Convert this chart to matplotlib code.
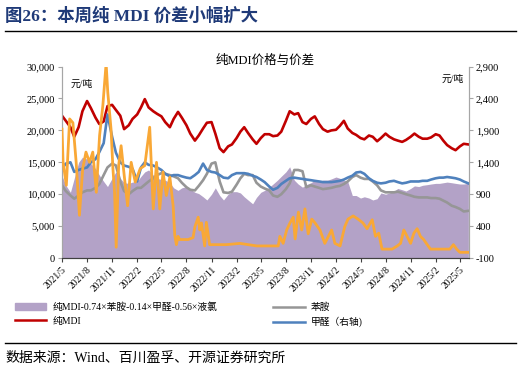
import numpy as np
import pandas as pd
import matplotlib
matplotlib.use("Agg")
import matplotlib.pyplot as plt
from matplotlib.patches import Patch
from matplotlib.lines import Line2D

plt.rcParams["font.family"] = ["Liberation Serif", "Noto Sans CJK SC"]
plt.rcParams["axes.unicode_minus"] = False

# semi-monthly points, 2021/5 -> 2025/6 (thousand yuan/t, left axis)
mdi = [22.3, 21.5, 20.5, 19.0, 20.5, 23.0, 24.6, 23.5, 22.0, 21.0,
       21.4, 23.8, 24.0, 23.2, 22.3, 20.2, 20.8, 21.8, 22.5, 23.6,
       24.9, 23.6, 23.0, 22.6, 22.2, 21.3, 20.5, 21.8, 22.9, 22.0,
       20.8, 19.5, 18.4, 19.2, 20.3, 21.2, 21.3, 19.5, 17.2, 16.6,
       17.5, 17.8, 18.8, 19.8, 20.5, 19.6, 18.6, 17.9, 18.8, 19.4,
       19.4, 19.1, 19.2, 19.8, 21.5, 23.0, 22.5, 22.7, 21.3, 21.0,
       21.8, 22.2, 21.0, 20.2, 19.8, 20.0, 20.1, 20.7, 21.5, 20.3,
       19.6, 19.3, 18.8, 18.6, 19.2, 19.0, 18.3, 18.8, 19.5, 19.0,
       18.6, 18.4, 18.2, 18.5, 19.0, 19.5, 19.0, 18.7, 18.7, 18.9,
       19.4, 19.2, 18.4, 17.7, 17.2, 16.9, 17.5, 17.9, 17.8]
aniline = [11.4, 10.5, 9.8, 9.3, 9.8, 10.3, 10.6, 10.6, 11.0, 11.6,
           13.0, 14.2, 14.8, 14.5, 12.0, 10.5, 10.0, 10.5, 11.0, 11.0,
           11.5, 12.0, 12.5, 13.0, 13.3, 13.2, 13.0, 12.8, 12.5, 11.8,
           11.1, 10.7, 10.6, 11.3, 12.2, 13.2, 14.8, 15.0, 12.0, 10.3,
           10.2, 10.4, 11.5, 12.5, 13.2, 13.0, 13.0, 11.8, 11.2, 10.9,
           10.6, 9.8, 9.6, 10.0, 10.8, 11.7, 13.8, 13.8, 13.6, 11.1,
           11.4, 11.2, 11.0, 10.8, 10.9, 11.0, 11.2, 11.3, 11.6, 12.0,
           12.7, 13.0, 12.6, 12.4, 12.4, 12.0, 11.4, 10.6, 10.3, 10.3,
           10.3, 10.4, 10.2, 10.0, 9.8, 9.6, 9.5, 9.5, 9.5, 9.4,
           9.4, 9.3, 9.0, 8.7, 8.2, 8.0, 7.7, 7.3, 7.4]
spread = [12.9, 11.4, 10.3, 12.5, 15.0, 15.8, 15.5, 14.8, 14.0, 13.0,
          12.0, 11.2, 12.5, 13.5, 12.5, 11.8, 11.7, 11.9, 12.0, 12.8,
          13.5, 13.8, 13.0, 12.5, 12.3, 12.2, 11.8, 11.0, 10.6, 11.0,
          11.2, 10.8, 10.3, 10.1, 9.6, 9.1, 10.0, 11.0, 9.8, 9.1,
          10.0, 10.4, 10.4, 10.2, 9.6, 9.1, 8.5, 9.5, 10.3, 10.6,
          11.1, 11.6, 12.2, 12.8, 13.5, 14.3, 12.2, 11.6, 11.1, 11.5,
          11.8, 12.2, 12.0, 12.2, 12.2, 12.4, 12.7, 12.5, 12.2, 12.0,
          9.8, 9.8, 9.4, 9.6, 9.4, 9.1, 9.3, 10.2, 10.0, 10.2,
          10.5, 10.9, 10.7, 10.5, 10.9, 11.3, 11.2, 11.4, 11.5, 11.6,
          11.7, 11.7, 11.8, 11.9, 11.8, 11.7, 11.6, 11.6, 11.7]
# right axis, yuan/t
formaldehyde = [1300, 1380, 1400, 1250, 1280, 1300, 1320, 1400, 1450, 1560,
                1700, 2150, 1800, 1550, 1400, 1350, 1330, 1300, 1100, 1320,
                1400, 1360, 1350, 1320, 1280, 1220, 1180, 1200, 1200, 1180,
                1160, 1150, 1200, 1250, 1380, 1280, 1250, 1240, 1200, 1160,
                1150, 1200, 1230, 1230, 1230, 1220, 1190, 1170, 1130, 1090,
                1020, 970, 1000, 1060, 1110, 1150, 1160, 1150, 1140, 1130,
                1120, 1110, 1100, 1090, 1090, 1090, 1100, 1110, 1130, 1160,
                1190, 1240, 1250, 1220, 1150, 1110, 1080, 1070, 1080, 1100,
                1110, 1090, 1070, 1080, 1100, 1100, 1100, 1110, 1110, 1130,
                1150, 1160, 1160, 1170, 1160, 1150, 1130, 1100, 1070]

chlorine_dates = [
    "2021-05-01", "2021-05-05", "2021-05-17", "2021-05-29", "2021-06-10", "2021-06-22",
    "2021-07-04", "2021-07-16", "2021-07-28", "2021-08-10", "2021-08-22", "2021-09-04",
    "2021-09-16", "2021-09-28", "2021-10-10", "2021-10-16", "2021-10-28", "2021-11-04",
    "2021-11-10", "2021-11-16", "2021-11-25", "2021-12-04", "2021-12-16", "2021-12-28",
    "2022-01-10", "2022-01-25", "2022-02-12", "2022-03-01", "2022-03-19", "2022-04-01",
    "2022-04-13", "2022-04-25", "2022-05-07", "2022-05-19", "2022-06-01", "2022-06-13",
    "2022-06-19", "2022-06-25", "2022-07-01", "2022-07-07", "2022-08-07", "2022-08-25",
    "2022-09-01", "2022-09-13", "2022-09-19", "2022-09-25", "2022-10-07", "2022-10-13",
    "2022-10-25", "2022-12-25", "2023-02-13", "2023-04-16", "2023-05-04", "2023-07-04",
    "2023-07-10", "2023-07-22", "2023-08-04", "2023-08-16", "2023-08-28", "2023-09-04",
    "2023-09-16", "2023-09-28", "2023-10-10", "2023-10-22", "2023-11-04", "2023-11-16",
    "2023-12-04", "2023-12-22", "2024-01-04", "2024-01-16", "2024-01-28", "2024-02-16",
    "2024-03-04", "2024-03-16", "2024-04-04", "2024-04-22", "2024-05-10", "2024-05-25",
    "2024-06-13", "2024-06-25", "2024-07-07", "2024-07-19", "2024-08-25", "2024-09-13",
    "2024-09-25", "2024-10-07", "2024-10-19", "2024-11-01", "2024-11-13", "2024-11-25",
    "2024-12-07", "2024-12-19", "2025-01-01", "2025-01-13", "2025-03-25", "2025-04-07",
    "2025-04-19", "2025-05-01", "2025-06-01"]
chlorine = [1920, 1400, 1040, 2080, 2020, 1400, 570, 1300, 1560, 1400, 1560, 930,
            1820, 2290, 2950, 2500, 1920, 1300, 930, 70, 1350, 1660, 1170, 720,
            1400, 1090, 1300, 1350, 1950, 670, 1400, 670, 1250, 880, 1170, 720,
            260, 110, 240, 190, 190, 220, 390, 540, 340, 450, 90, 460,
            110, 110, 130, 90, 90, 90, 240, 130, 340, 450, 540, 200,
            620, 340, 670, 280, 510, 450, 340, 130, 240, 340, 130, 90,
            390, 510, 560, 510, 450, 360, 500, 240, 290, 40, 40, 90,
            130, 340, 240, 130, 290, 360, 240, 190, 110, 40, 40, 110,
            40, -10, -10]

assert len(mdi) == len(aniline) == len(spread) == len(formaldehyde)
assert len(chlorine) == len(chlorine_dates)

dates = pd.date_range("2021-05-01", periods=len(mdi), freq="SMS")
cl_dates = pd.to_datetime(chlorine_dates)

RED = "#C00000"
BLUE = "#4F81BD"
GRAY = "#969696"
ORANGE = "#F9A836"
PURPLE = "#B3A2C7"

fig = plt.figure(figsize=(5.21, 3.74), dpi=100)
ax = fig.add_axes([0.119, 0.310, 0.781, 0.512])
ax2 = ax.twinx()

ax.fill_between(dates, np.array(spread) * 1000, 0, color=PURPLE, lw=0, zorder=1)
ax.plot(dates, np.array(aniline) * 1000, color=GRAY, lw=1.9, zorder=2)
ax.plot(dates, np.array(mdi) * 1000, color=RED, lw=1.9, zorder=2)
ax2.plot(cl_dates, chlorine, color=ORANGE, lw=2.0, zorder=3)
ax2.plot(dates, formaldehyde, color=BLUE, lw=1.9, zorder=2)

ax.set_zorder(ax2.get_zorder() - 1)
ax.patch.set_visible(False)
ax2.patch.set_visible(False)

ax.set_ylim(0, 30000)
ax.set_yticks(np.arange(0, 30001, 5000))
ax.set_yticklabels([f"{v:,}" for v in range(0, 30001, 5000)])
ax2.set_ylim(-100, 2900)
ax2.set_yticks(np.arange(-100, 2901, 500))
ax2.set_yticklabels([f"{v:,}" for v in range(-100, 2901, 500)])

ax.set_xlim(pd.Timestamp("2021-05-01"), pd.Timestamp("2025-06-03"))
ticks = pd.date_range("2021-05-01", "2025-05-01", freq="3MS")
ax.set_xticks(ticks)
ax.set_xticklabels([f"{d.year}/{d.month}" for d in ticks], rotation=45,
                   ha="right", rotation_mode="anchor", fontsize=7)

for a in (ax, ax2):
    a.spines["top"].set_visible(False)
    a.spines["left"].set_color("#A6A6A6")
    a.spines["right"].set_color("#A6A6A6")
    a.spines["bottom"].set_color("#404040")
    a.tick_params(axis="y", labelsize=7.5, length=3, color="#A6A6A6", pad=2)
ax.tick_params(axis="x", length=3, color="#404040", pad=2)

ax.text(0.02, 0.93, "元/吨", transform=ax.transAxes, fontsize=7, va="top")
ax2.text(0.96, 0.955, "元/吨", transform=ax2.transAxes, fontsize=7, va="top", ha="center")

fig.text(0.509, 0.838, "纯MDI价格与价差", ha="center", va="center", fontsize=9)

fig.text(0.010, 0.957, "图26：本周纯 MDI 价差小幅扩大", fontsize=12.5, fontweight="bold",
         color="#1F3A78", va="center", ha="left")
fig.add_artist(Line2D([0.010, 0.990], [0.917, 0.917], color="black", lw=1.0))
fig.add_artist(Line2D([0.010, 0.990], [0.083, 0.083], color="black", lw=1.0))
fig.text(0.010, 0.043, "数据来源：Wind、百川盈孚、开源证券研究所", fontsize=10, va="center", ha="left")

handles = [Patch(color=PURPLE), Line2D([], [], color=RED, lw=1.8),
           Line2D([], [], color=GRAY, lw=1.8), Line2D([], [], color=BLUE, lw=1.8)]
labels = ["纯MDI-0.74×苯胺-0.14×甲醛-0.56×液氯", "纯MDI", "苯胺", "甲醛（右轴)"]
fig.legend(handles, labels, ncol=2, loc="upper left", bbox_to_anchor=(0.02, 0.205),
           frameon=False, fontsize=7, handlelength=3.2, handleheight=0.6,
           columnspacing=5.8, labelspacing=0.5, handletextpad=0.6, borderpad=0)

fig.savefig("out.png", dpi=100)
